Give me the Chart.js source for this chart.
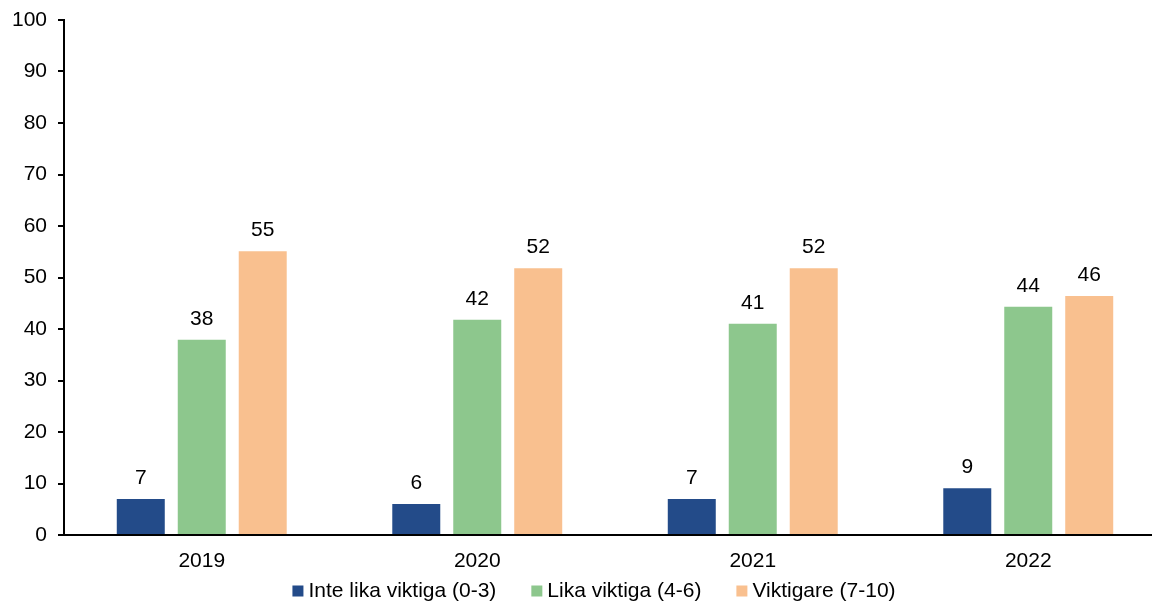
<!DOCTYPE html>
<html>
<head>
<meta charset="utf-8">
<script src="https://cdn.jsdelivr.net/npm/chart.js@4/dist/chart.umd.min.js"></script>
<style>
  html, body { margin: 0; padding: 0; background: #fff; overflow: hidden; }
  #wrap { width: 1172px; height: 601px; position: relative; }
</style>
</head>
<body>
<div id="wrap"><canvas id="chart"></canvas></div>
<script>
const years = ['2019', '2020', '2021', '2022'];
const seriesNames = ['Inte lika viktiga (0-3)', 'Lika viktiga (4-6)', 'Viktigare (7-10)'];
const inteLika = [7, 6, 7, 9.1];
const likaViktiga = [37.9, 41.8, 41, 44.3];
const viktigare = [55.1, 51.8, 51.8, 46.4];
const colors = ['#234b89', '#8dc78d', '#f9c08f'];

const fontFamily = '"Liberation Sans", Arial, sans-serif';
const font = '21px ' + fontFamily;

// numbers above each bar
const valueLabels = {
  id: 'valueLabels',
  afterDatasetsDraw(chart) {
    const ctx = chart.ctx;
    ctx.save();
    ctx.font = font;
    ctx.fillStyle = '#000';
    ctx.textAlign = 'center';
    ctx.textBaseline = 'alphabetic';
    chart.data.datasets.forEach((ds, i) => {
      chart.getDatasetMeta(i).data.forEach((bar, j) => {
        ctx.fillText(Math.round(ds.data[j]), bar.x, bar.y - 15);
      });
    });
    ctx.restore();
  }
};

// legend drawn by hand to match the spacing of the original
const bottomLegend = {
  id: 'bottomLegend',
  afterDraw(chart) {
    const ctx = chart.ctx;
    ctx.save();
    ctx.font = font;
    const box = 11, gapText = 5, gapItem = 35;
    const items = chart.data.datasets.map(ds => ({ text: ds.label, color: ds.backgroundColor, w: ctx.measureText(ds.label).width }));
    const total = items.reduce((s, it) => s + box + gapText + it.w, 0) + gapItem * (items.length - 1);
    let x = 594 - total / 2;
    const y = 591;
    ctx.textBaseline = 'middle';
    ctx.textAlign = 'left';
    items.forEach(it => {
      ctx.fillStyle = it.color;
      ctx.fillRect(x, y - box / 2, box, box);
      x += box + gapText;
      ctx.fillStyle = '#000';
      ctx.fillText(it.text, x, y);
      x += it.w + gapItem;
    });
    ctx.restore();
  }
};

new Chart(document.getElementById('chart'), {
  type: 'bar',
  data: {
    labels: years,
    datasets: [inteLika, likaViktiga, viktigare].map((d, i) => ({
      label: seriesNames[i],
      data: d,
      backgroundColor: colors[i],
      categoryPercentage: 0.664,
      barPercentage: 0.787,
    })),
  },
  options: {
    responsive: true,
    maintainAspectRatio: false,
    animation: false,
    layout: { padding: { top: 0, left: 0, right: 6, bottom: 27 } },
    plugins: {
      legend: { display: false },
      tooltip: { enabled: false },
    },
    scales: {
      x: {
        grid: { display: false },
        border: { color: '#000', width: 2 },
        ticks: { color: '#000', font: { family: fontFamily, size: 21 }, padding: 6 },
        afterFit(scale) { scale.height = 39; },
      },
      y: {
        min: 0,
        max: 100,
        grid: { drawOnChartArea: false, color: '#000', tickLength: 6, lineWidth: 2 },
        border: { color: '#000', width: 2 },
        ticks: { stepSize: 10, color: '#000', font: { family: fontFamily, size: 21 }, padding: 11 },
        afterFit(scale) { scale.width = 64; scale.paddingTop = 20; },
      },
    },
  },
  plugins: [valueLabels, bottomLegend],
});
</script>
</body>
</html>
